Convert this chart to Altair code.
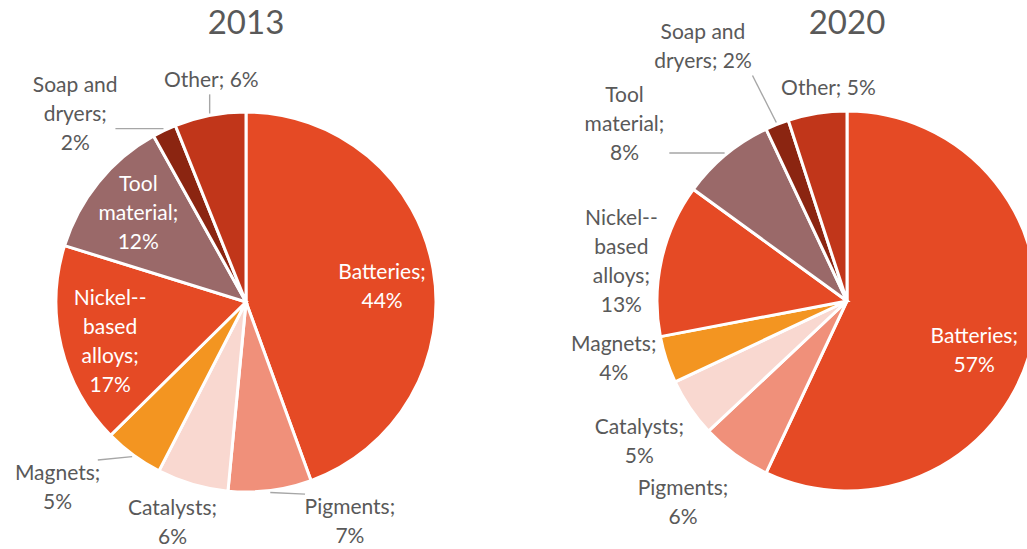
import altair as alt
import pandas as pd

# ---- data ----
categories = ["Batteries", "Pigments", "Catalysts", "Magnets",
              "Nickel-based alloys", "Tool material", "Soap and dryers", "Other"]
share_2013 = [44, 7, 6, 5, 17, 12, 2, 6]
share_2020 = [57, 6, 5, 4, 13, 8, 2, 5]
labels_2013 = ["Batteries;\n44%", "Pigments;\n7%", "Catalysts;\n6%", "Magnets;\n5%",
               "Nickel--\nbased\nalloys;\n17%", "Tool\nmaterial;\n12%",
               "Soap and\ndryers;\n2%", "Other; 6%"]
labels_2020 = ["Batteries;\n57%", "Pigments;\n6%", "Catalysts;\n5%", "Magnets;\n4%",
               "Nickel--\nbased\nalloys;\n13%", "Tool\nmaterial;\n8%",
               "Soap and\ndryers; 2%", "Other; 5%"]
years = ["2013", "2020"]

# ---- label layout (style) ----
inside_2013 = ["Batteries", "Nickel-based alloys", "Tool material"]
inside_2020 = ["Batteries"]
leader_2013 = ["Pigments", "Magnets", "Soap and dryers", "Other"]
leader_2020 = ["Tool material", "Soap and dryers"]
nudge_deg_2013 = [4, -18, 2, 9, -3, 0, -17, 2]
nudge_deg_2020 = [9, 3, 0, 4, -3, -12, -8, 4]
push_px_2013 = [0, -4, -4, 14, 5, 2, -8, 0]
push_px_2020 = [0, 16, 0, 0, -15, 20, 40, 0]

colors = ["#E54A25", "#F0907A", "#F9D8D0", "#F39521",
          "#E54A25", "#9A6969", "#8B2511", "#C1361A"]
FONT = "Lato"
GRAY = "#595959"
LEADER = "#A6A6A6"
R = 190
FS = 21
LINE_H = 29
CHAR_W = 9.3


def make_df(shares, labels, inside, leader, nudge, push):
    rows = []
    for i, c in enumerate(categories):
        lines = labels[i].split("\n")
        rows.append({
            "category": c, "value": shares[i], "label": labels[i], "order": i,
            "inside": c in inside, "leader": c in leader,
            "nudge": nudge[i], "push": push[i],
            "nl": len(lines),
            "w": max(len(s) for s in lines) * CHAR_W,
        })
    return pd.DataFrame(rows)


def pie(df, cx, cy, year):
    arcs = alt.Chart(df).mark_arc(outerRadius=R, stroke="white", strokeWidth=3).encode(
        x=alt.value(cx), y=alt.value(cy),
        theta=alt.Theta("value:Q", stack=True),
        order=alt.Order("order:Q"),
        color=alt.Color("category:N",
                        scale=alt.Scale(domain=categories, range=colors),
                        legend=None),
    )
    lab = (
        alt.Chart(df)
        .transform_window(cum="sum(value)", sort=[alt.SortField("order")],
                          frame=[None, 0])
        .transform_joinaggregate(total="sum(value)")
        .transform_calculate(
            a="2*PI*(datum.cum - datum.value/2)/datum.total",
            hh=f"datum.nl*{LINE_H / 2} - 3",
        )
        .transform_calculate(al="datum.a + datum.nudge*PI/180")
        .transform_calculate(
            lr=f"(datum.inside ? {0.72 * R} : {R} + (datum.leader ? 16 : 8)"
               f" + abs(cos(datum.al))*datum.hh + abs(sin(datum.al))*datum.w/2) + datum.push",
        )
        .transform_calculate(
            lx=f"{cx} + datum.lr*sin(datum.al)",
            ly=f"{cy} - datum.lr*cos(datum.al)",
            x0=f"{cx} + {R + 2}*sin(datum.a)",
            y0=f"{cy} - {R + 2}*cos(datum.a)",
        )
        .transform_calculate(
            ty=f"datum.ly - (datum.nl - 1)*{LINE_H / 2}",
            x1="clamp(datum.x0, datum.lx - datum.w/2 - 3, datum.lx + datum.w/2 + 3)",
            y1="clamp(datum.y0, datum.ly - datum.hh - 2, datum.ly + datum.hh + 2)",
            tcol=f"datum.inside ? 'white' : '{GRAY}'",
        )
    )
    text = lab.mark_text(font=FONT, fontSize=FS, lineBreak="\n", lineHeight=LINE_H,
                         align="center", baseline="middle").encode(
        x=alt.X("lx:Q", scale=None),
        y=alt.Y("ty:Q", scale=None),
        text=alt.Text("label:N"),
        color=alt.Color("tcol:N", scale=None),
    )
    leaders = lab.transform_filter("datum.leader").mark_rule(
        color=LEADER, strokeWidth=1.4
    ).encode(
        x=alt.X("x0:Q", scale=None), y=alt.Y("y0:Q", scale=None),
        x2=alt.X2("x1:Q"), y2=alt.Y2("y1:Q"),
    )
    title = alt.Chart(pd.DataFrame({"t": [year]})).mark_text(
        font=FONT, fontSize=33, color=GRAY, align="center", baseline="middle"
    ).encode(x=alt.value(cx), y=alt.value(24), text="t:N")
    return [arcs, leaders, text, title]


df13 = make_df(share_2013, labels_2013, inside_2013, leader_2013,
               nudge_deg_2013, push_px_2013)
df20 = make_df(share_2020, labels_2020, inside_2020, leader_2020,
               nudge_deg_2020, push_px_2020)

chart = alt.layer(
    *pie(df13, 246, 302, years[0]),
    *pie(df20, 847, 301, years[1]),
).resolve_scale(theta="independent").properties(
    width=1027, height=549,
    autosize=alt.AutoSizeParams(type="none"),
    padding=0,
).configure_view(stroke=None)

chart.save("out.html", embed_options={"renderer": "svg", "actions": False})
